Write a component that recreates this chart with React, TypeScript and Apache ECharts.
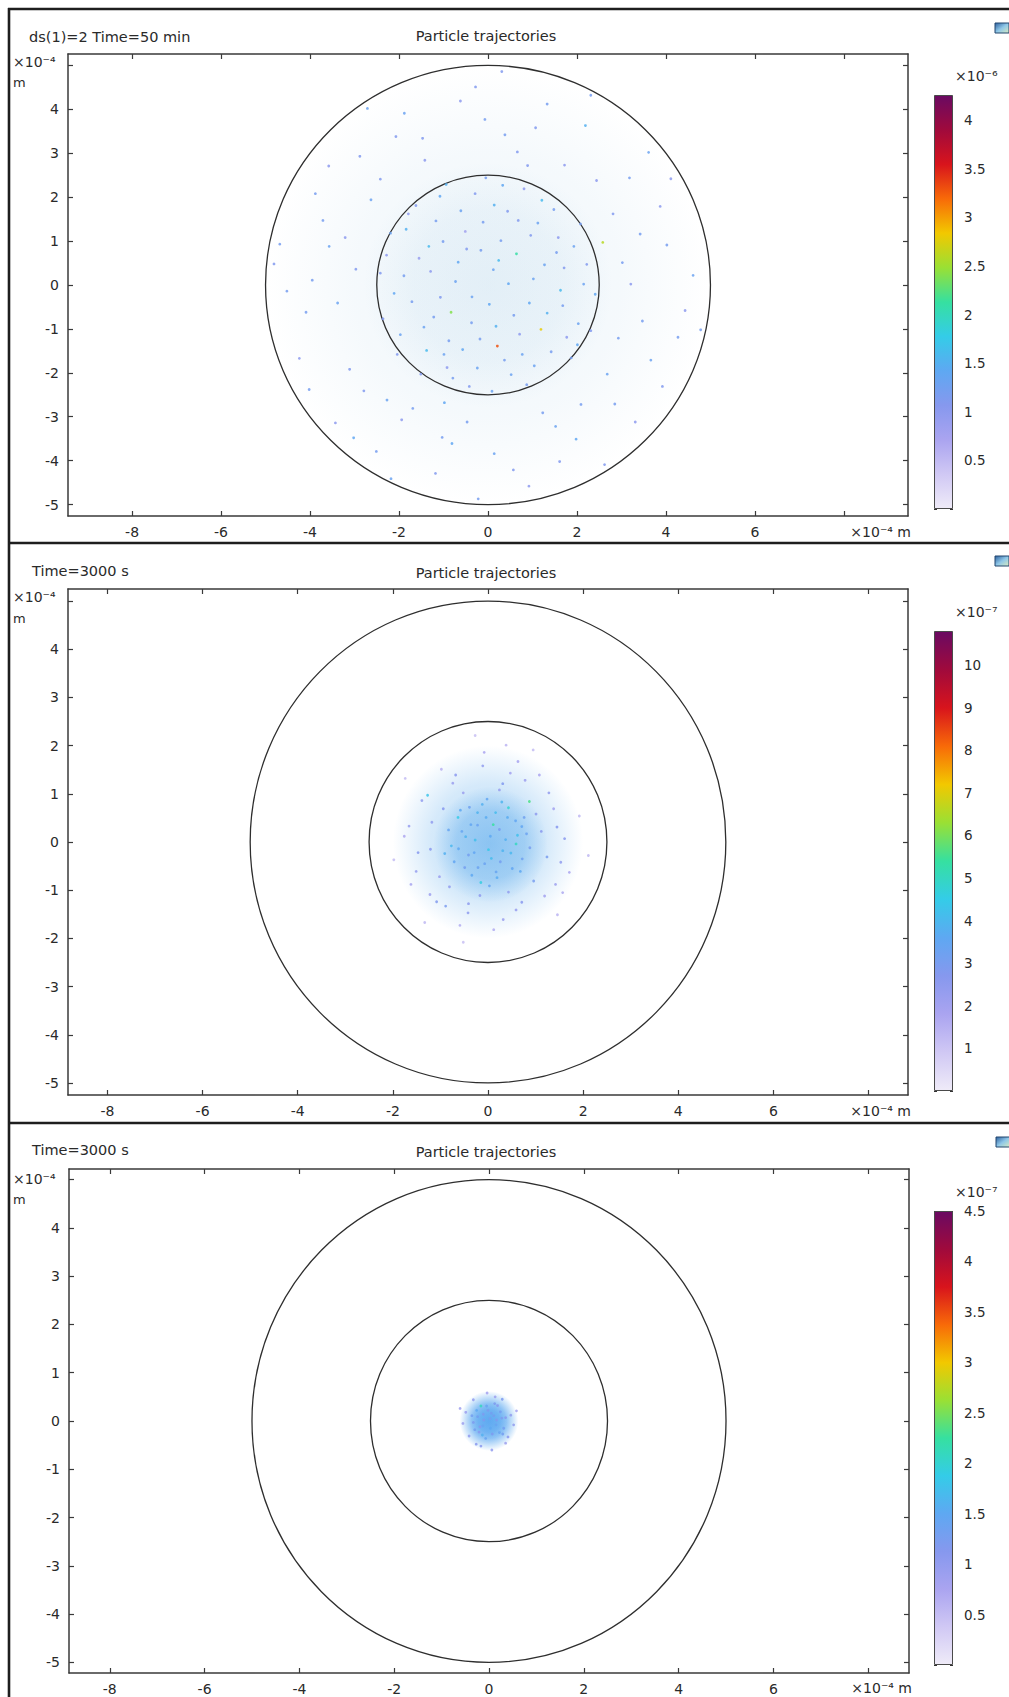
import React, { useEffect, useRef } from 'react';
import * as echarts from 'echarts';

const FONT = 'DejaVu Sans';

// ---------- axis ticks (units of 1e-4 m) ----------
const xTickValues = [-8, -6, -4, -2, 0, 2, 4, 6, 8];
const xLabelValues = [-8, -6, -4, -2, 0, 2, 4, 6];
const yTickValues = [-5, -4, -3, -2, -1, 0, 1, 2, 3, 4, 5];
const yLabelValues = [-5, -4, -3, -2, -1, 0, 1, 2, 3, 4];

// ---------- text ----------
const plotTitles = ['Particle trajectories', 'Particle trajectories', 'Particle trajectories'];
const panelLabels = ['ds(1)=2 Time=50 min', 'Time=3000 s', 'Time=3000 s'];
const axisUnit = '×10⁻⁴';
const xAxisUnit = '×10⁻⁴ m';
const colorUnits = ['×10⁻⁶', '×10⁻⁷', '×10⁻⁷'];

// ---------- colour bars ----------
const colorMin = [0, 0, 0];
const colorMax = [4.26, 10.8, 4.5];
const colorTicks1 = [0, 0.5, 1, 1.5, 2, 2.5, 3, 3.5, 4];
const colorTicks2 = [0, 1, 2, 3, 4, 5, 6, 7, 8, 9, 10];
const colorTicks3 = [0, 0.5, 1, 1.5, 2, 2.5, 3, 3.5, 4, 4.5];
const colorTicks = [colorTicks1, colorTicks2, colorTicks3];
const PALETTE = [
  '#efebf8', '#d0c8f4', '#aaa4f0', '#8698ee', '#5ea8f2', '#34cce8', '#36e0a0',
  '#9ae034', '#f2c800', '#f86a08', '#d8141c', '#a00a3c', '#6a0a62',
];

// ---------- geometry: domain boundaries [cx, cy, r] ----------
const boundaryCircles = [[0, 0, 5], [0, 0, 2.5]];

// ---------- particle clouds: density haze [cx, cy, r, alpha] ----------
const haze1 = [[0, 0, 5.0, 0.13], [0, 0, 2.8, 0.16]];
const haze2 = [[0, 0, 2.0, 0.32], [0.05, -0.05, 1.2, 0.5]];
const haze3 = [[0, 0, 0.62, 0.85], [0, 0, 0.38, 0.6]];
const hazeRGB = ['150,195,225', '80,165,235', '85,165,240'];

// ---------- particles [x (1e-4 m), y (1e-4 m), value] ----------
const particles1 = [
  [0.12, 0.35, 1.3], [-0.48, 0.82, 1.1], [0.93, -0.41, 1.4], [-1.22, -0.73, 1.2], [1.58, 1.08, 1.0], [-1.84, 1.27, 1.5], [0.37, -1.71, 1.2], [-0.29, 2.08, 1.1], [2.03, -0.88, 1.3], [-2.11, -0.19, 1.4],
  [1.21, 1.93, 1.6], [-0.92, -1.88, 1.0], [0.64, 0.71, 2.1], [-0.73, 0.08, 1.3], [1.42, -1.52, 1.2], [-1.55, 0.61, 0.9], [0.18, -0.94, 1.5], [-0.11, 1.43, 1.2], [2.22, 0.47, 1.1], [-1.97, -1.13, 1.3],
  [0.81, 2.19, 1.0], [-1.08, 2.02, 1.4], [1.87, -1.66, 1.2], [-0.42, -2.31, 1.1], [1.02, 0.14, 1.3], [-1.38, -1.49, 1.6], [0.29, 1.01, 1.2], [-0.83, -0.62, 2.4], [1.71, 0.39, 1.1], [-2.28, 0.68, 1.0],
  [0.52, -2.04, 1.3], [-0.18, -1.23, 1.2], [1.33, -0.64, 1.5], [-1.62, 1.81, 1.1], [2.08, 1.39, 1.2], [-0.61, 1.69, 1.3], [0.03, -0.44, 1.4], [-1.01, 0.99, 1.2], [0.71, -1.12, 1.0], [1.12, 1.41, 1.3],
  [-2.36, -0.77, 1.1], [2.41, -0.21, 1.4], [-0.05, 2.44, 1.2], [0.09, -2.42, 1.3], [1.63, -0.12, 1.6], [-1.71, -0.38, 1.2], [0.44, 1.68, 1.1], [-0.57, -1.47, 1.4], [1.93, 0.88, 1.3], [-1.29, 0.31, 1.0],
  [0.87, -2.27, 1.2], [-0.94, 2.29, 1.5], [2.31, -1.04, 1.1], [-2.19, 1.18, 1.3], [1.48, 1.72, 1.2], [-1.51, -2.03, 1.1], [0.24, 0.56, 1.6], [-0.36, -0.27, 1.3], [0.58, -0.69, 1.2], [-0.67, 0.52, 1.4],
  [1.19, -1.01, 2.8], [-1.17, 1.46, 1.2], [0.96, 1.13, 1.1], [-0.24, -1.89, 1.3], [1.77, -1.19, 1.0], [-1.89, 0.21, 1.2], [0.33, 2.27, 1.4], [-2.04, -1.58, 1.1], [2.15, 0.02, 1.3], [-0.79, -2.12, 1.2],
  [0.14, 1.82, 1.5], [-1.44, -0.96, 1.3], [1.54, 0.74, 1.2], [-0.51, 1.22, 0.8], [0.77, -1.58, 1.3], [-1.07, -0.28, 1.1], [0.46, 0.03, 1.4], [-0.16, 0.79, 1.2], [1.27, 0.46, 1.3], [-1.33, 0.88, 1.6],
  [0.68, 1.47, 1.1], [-0.88, -1.27, 1.2], [2.01, -1.36, 1.4], [-2.42, 0.27, 1.1], [1.04, -1.84, 1.3], [-0.37, -0.86, 1.2], [0.21, -1.39, 3.3], [-1.79, 1.62, 1.0], [1.68, -0.47, 1.2], [-0.99, -1.58, 1.3],
  [3.02, 0.51, 1.2], [-3.21, 1.08, 1.0], [2.68, -2.03, 1.3], [-2.79, -2.41, 1.1], [0.38, 3.42, 1.2], [-0.81, -3.61, 1.4], [3.87, 1.79, 1.0], [-4.09, -0.62, 1.2], [1.61, -4.02, 1.1], [-1.88, 3.91, 1.3],
  [4.27, -1.19, 1.2], [-3.58, 2.71, 1.0], [2.19, 3.63, 1.5], [-2.51, -3.79, 1.2], [0.92, -4.58, 1.0], [-0.28, 4.51, 1.1], [4.61, 0.22, 1.3], [-4.68, 0.93, 1.2], [3.31, -3.12, 1.0], [-3.02, -3.48, 1.4],
  [2.81, 1.62, 1.1], [-2.63, 1.94, 1.3], [1.23, -2.91, 1.2], [-1.42, 2.84, 1.0], [3.47, -0.82, 1.2], [-3.38, -0.41, 1.3], [0.66, 3.03, 1.1], [-0.47, -3.12, 1.2], [2.44, 2.38, 1.0], [-2.27, -2.62, 1.3],
  [3.92, -2.31, 1.1], [-3.88, 2.08, 1.2], [1.98, -3.51, 1.4], [-2.07, 3.38, 1.1], [4.02, 0.91, 1.2], [-4.24, -1.67, 1.0], [1.33, 4.12, 1.2], [-1.18, -4.29, 1.1], [3.61, 3.02, 1.3], [-3.43, -3.14, 1.0],
  [2.93, -1.21, 1.2], [-2.97, 0.36, 1.1], [0.14, -3.84, 1.3], [-0.07, 3.77, 1.2], [4.43, -0.58, 1.0], [-4.52, -0.14, 1.2], [2.62, -4.09, 1.1], [-2.71, 4.02, 1.3], [3.18, 2.44, 1.2], [-3.11, -1.92, 1.1],
  [1.72, 2.73, 1.0], [-1.69, -2.81, 1.2], [3.66, -1.71, 1.3], [-3.71, 1.47, 1.2], [0.57, -4.21, 1.1], [-0.62, 4.19, 1.0], [4.78, -1.02, 1.2], [-4.81, 0.48, 1.1], [2.31, 4.32, 1.2], [-2.18, -4.41, 1.3],
  [1.07, 3.58, 1.1], [-1.03, -3.47, 1.2], [3.21, 0.02, 1.0], [-3.57, 0.88, 1.3], [2.09, -2.72, 1.2], [-2.42, 2.41, 1.1], [4.11, 2.42, 1.0], [-4.02, -2.38, 1.2], [0.31, 4.86, 1.1], [-0.22, -4.87, 1.2],
  [2.58, 0.97, 2.6], [-1.94, -3.07, 1.0], [3.42, 1.16, 1.2], [-2.88, 2.93, 1.1], [1.52, -3.22, 1.3], [-3.95, 0.11, 1.2], [0.89, 2.72, 1.1], [-0.98, -2.68, 1.4], [2.85, -2.71, 1.2], [-1.47, 3.34, 1.1],
];

const particles2 = [
  [0.05, 0.12, 3.6], [-0.22, 0.35, 3.3], [0.31, -0.18, 3.9], [-0.41, -0.27, 3.1], [0.58, 0.44, 3.5], [-0.63, 0.51, 4.5], [0.17, -0.62, 3.4], [-0.12, 0.78, 3.8], [0.72, -0.35, 3.2], [-0.77, -0.08, 4.0],
  [0.43, 0.71, 4.8], [-0.34, -0.69, 3.6], [0.24, 0.26, 3.0], [-0.27, 0.04, 4.2], [0.51, -0.55, 3.5], [-0.55, 0.22, 3.4], [0.07, -0.34, 4.1], [-0.04, 0.51, 3.7], [0.81, 0.17, 3.3], [-0.71, -0.41, 3.5],
  [0.29, 0.83, 3.9], [-0.39, 0.72, 3.2], [0.68, -0.61, 3.6], [-0.15, -0.84, 4.6], [0.37, 0.05, 3.8], [-0.49, -0.53, 3.1], [0.11, 0.36, 5.4], [-0.29, -0.22, 3.5], [0.62, 0.14, 4.2], [-0.83, 0.25, 3.4],
  [0.19, -0.74, 3.7], [-0.07, -0.45, 3.3], [0.48, -0.23, 4.0], [-0.58, 0.66, 3.6], [0.76, 0.51, 3.2], [-0.22, 0.61, 3.9], [0.01, -0.16, 4.4], [-0.36, 0.36, 3.5], [0.26, -0.41, 3.1], [0.41, 0.51, 3.7],
  [0.88, -0.12, 3.0], [-0.91, -0.24, 3.8], [-0.02, 0.89, 3.5], [0.03, -0.91, 3.4], [0.59, -0.04, 5.0], [-0.62, -0.14, 3.6], [0.16, 0.61, 4.1], [-0.21, -0.53, 3.3], [0.71, 0.32, 3.5], [-0.47, 0.11, 3.9],
  [1.12, 0.22, 2.6], [-1.18, 0.41, 2.4], [0.96, -0.81, 3.0], [-1.02, -0.72, 2.2], [0.31, 1.21, 2.8], [-0.41, -1.28, 2.5], [1.38, 0.69, 2.0], [-1.47, -0.22, 2.7], [0.59, -1.41, 2.3], [-0.68, 1.39, 2.6],
  [1.53, -0.42, 2.4], [-1.27, 0.97, 4.3], [0.78, 1.28, 2.1], [-0.89, -1.33, 2.9], [0.32, -1.61, 2.2], [-0.11, 1.58, 2.4], [1.61, 0.07, 2.6], [-1.66, 0.33, 2.3], [1.19, -1.12, 2.0], [-1.08, -1.24, 2.8],
  [1.01, 0.58, 2.5], [-0.94, 0.69, 2.7], [0.43, -1.04, 2.4], [-0.52, 1.02, 2.2], [1.24, -0.31, 3.0], [-1.21, -0.15, 2.6], [0.24, 1.08, 2.3], [-0.17, -1.11, 2.5], [0.87, 0.84, 5.6], [-0.81, -0.93, 2.4],
  [1.42, -0.88, 2.1], [-1.39, 0.86, 2.4], [0.71, -1.25, 2.6], [-0.74, 1.22, 2.2], [1.45, 0.31, 2.7], [-1.51, -0.61, 2.3], [0.47, 1.43, 2.0], [-0.42, -1.47, 2.5], [1.28, 1.02, 2.4], [-1.22, -1.09, 2.1],
  [1.71, -0.63, 1.8], [-1.76, 0.12, 1.7], [0.63, 1.67, 1.9], [-0.59, -1.73, 1.6], [1.08, 1.39, 1.8], [-0.98, 1.51, 1.5], [1.57, -1.05, 1.7], [-1.62, -0.88, 1.9], [0.12, -1.82, 1.6], [-0.08, 1.86, 1.8],
  [1.92, 0.54, 1.3], [-1.98, -0.37, 1.2], [0.38, 2.01, 1.4], [-0.52, -2.08, 1.1], [2.11, -0.28, 1.3], [-1.74, 1.32, 1.2], [1.46, -1.51, 1.4], [-1.33, -1.67, 1.3], [0.95, 1.91, 1.2], [-0.27, 2.21, 1.1],
];

const particles3 = [
  [0.02, 0.05, 1.3], [-0.12, 0.14, 1.2], [0.15, -0.08, 1.4], [-0.19, -0.12, 1.1], [0.24, 0.19, 1.3], [-0.26, 0.22, 1.5], [0.07, -0.27, 1.2], [-0.05, 0.31, 1.4], [0.31, -0.15, 1.3], [-0.33, -0.03, 1.2],
  [0.18, 0.32, 1.1], [-0.14, -0.29, 1.6], [0.1, 0.11, 1.3], [-0.11, 0.02, 1.2], [0.22, -0.24, 1.4], [-0.24, 0.09, 1.3], [0.03, -0.15, 1.5], [-0.02, 0.22, 1.2], [0.35, 0.07, 1.1], [-0.3, -0.18, 1.3],
  [0.12, 0.36, 1.2], [-0.17, 0.31, 2.1], [0.29, -0.27, 1.3], [-0.07, -0.36, 1.4], [0.16, 0.02, 1.2], [-0.21, -0.23, 1.1], [0.05, 0.16, 1.3], [-0.13, -0.1, 1.4], [0.27, 0.06, 1.2], [-0.36, 0.11, 1.3],
  [0.46, 0.12, 1.0], [-0.49, 0.18, 0.9], [0.4, -0.33, 1.1], [-0.42, -0.31, 1.0], [0.13, 0.5, 0.9], [-0.17, -0.52, 1.1], [0.52, -0.08, 1.0], [-0.55, -0.05, 0.9], [0.28, 0.45, 1.2], [-0.33, 0.44, 1.0],
  [0.35, -0.46, 0.9], [-0.27, -0.48, 1.1], [0.58, 0.21, 0.8], [-0.61, 0.26, 0.9], [0.06, -0.6, 1.0], [-0.04, 0.58, 0.8],
];

const particleSets = [particles1, particles2, particles3];
const hazeSets = [haze1, haze2, haze3];

// ---------- layout (pixels) ----------
const LAYOUT = [
  {
    grid: { left: 68, top: 54, width: 840, height: 462 }, xr: 9.44, yr: 5.26,
    cbar: { left: 934, top: 95, width: 19, height: 414 },
    label: [29, 37], title: [486, 36], yUnit: [13, 62], yM: [13, 82], xUnit: [911, 532], cUnit: [955, 76], icon: [995, 23],
  },
  {
    grid: { left: 68, top: 589, width: 840, height: 506 }, xr: 8.83, yr: 5.25,
    cbar: { left: 934, top: 631, width: 19, height: 460 },
    label: [32, 571], title: [486, 573], yUnit: [13, 597], yM: [13, 618], xUnit: [911, 1111], cUnit: [955, 612], icon: [995, 556],
  },
  {
    grid: { left: 69, top: 1169, width: 840, height: 504 }, xr: 8.86, yr: 5.22,
    cbar: { left: 934, top: 1211, width: 19, height: 454 },
    label: [32, 1150], title: [486, 1152], yUnit: [13, 1179], yM: [13, 1199], xUnit: [912, 1688], cUnit: [955, 1192], icon: [996, 1137],
  },
];

const AXIS_COLOR = '#3a3a3a';
const TEXT_COLOR = '#2a2a2a';

function buildOption() {
  const grids: any[] = [];
  const xAxes: any[] = [];
  const yAxes: any[] = [];
  const series: any[] = [];
  const visualMaps: any[] = [];
  const graphics: any[] = [];

  const gradStops = PALETTE.map((c, k) => ({ offset: k / (PALETTE.length - 1), color: c }));

  LAYOUT.forEach((L, i) => {
    const gMain = grids.length;
    grids.push({ ...L.grid, containLabel: false });
    const gBar = grids.length;
    grids.push({ ...L.cbar, containLabel: false });

    const axLine = { show: true, onZero: false, lineStyle: { color: AXIS_COLOR, width: 1.5 } };
    const tick = (vals: number[]) => ({ show: true, inside: true, length: 5, customValues: vals, lineStyle: { color: AXIS_COLOR, width: 1.2 } });
    const lbl = (vals: number[], margin: number) => ({ show: true, customValues: vals, margin, fontSize: 14, color: TEXT_COLOR, fontFamily: FONT });

    const xb = xAxes.length;
    xAxes.push({ type: 'value', gridIndex: gMain, position: 'bottom', min: -L.xr, max: L.xr, axisLine: axLine, axisTick: tick(xTickValues), axisLabel: lbl(xLabelValues, 9), splitLine: { show: false } });
    xAxes.push({ type: 'value', gridIndex: gMain, position: 'top', min: -L.xr, max: L.xr, axisLine: axLine, axisTick: tick(xTickValues), axisLabel: { show: false }, splitLine: { show: false } });
    const xc = xAxes.length;
    xAxes.push({ type: 'category', gridIndex: gBar, data: ['c'], show: false, boundaryGap: true });

    const yl = yAxes.length;
    yAxes.push({ type: 'value', gridIndex: gMain, position: 'left', min: -L.yr, max: L.yr, axisLine: axLine, axisTick: tick(yTickValues), axisLabel: lbl(yLabelValues, 9), splitLine: { show: false } });
    yAxes.push({ type: 'value', gridIndex: gMain, position: 'right', min: -L.yr, max: L.yr, axisLine: axLine, axisTick: tick(yTickValues), axisLabel: { show: false }, splitLine: { show: false } });
    const yc = yAxes.length;
    const cTicks = colorTicks[i];
    yAxes.push({
      type: 'value', gridIndex: gBar, position: 'right', min: colorMin[i], max: colorMax[i],
      axisLine: { show: false, onZero: false },
      axisTick: { show: true, inside: true, length: 3, customValues: cTicks, lineStyle: { color: '#333', width: 1 } },
      axisLabel: { show: true, customValues: cTicks.filter((v) => v !== 0), margin: 11, fontSize: 13.5, color: TEXT_COLOR, fontFamily: FONT },
      splitLine: { show: false },
    });
    yAxes.push({
      type: 'value', gridIndex: gBar, position: 'left', min: colorMin[i], max: colorMax[i],
      axisLine: { show: false, onZero: false },
      axisTick: { show: true, inside: true, length: 3, customValues: cTicks, lineStyle: { color: '#333', width: 1 } },
      axisLabel: { show: false },
      splitLine: { show: false },
    });

    // haze (density of particle cloud)
    const rgb = hazeRGB[i];
    series.push({
      type: 'custom', xAxisIndex: xb, yAxisIndex: yl, silent: true, clip: true,
      data: hazeSets[i], encode: { x: 0, y: 1 },
      renderItem: (params: any, api: any) => {
        const c = api.coord([api.value(0), api.value(1)]);
        const s = api.size([api.value(2), api.value(2)]);
        const a = api.value(3);
        return {
          type: 'ellipse',
          shape: { cx: c[0], cy: c[1], rx: s[0], ry: s[1] },
          style: {
            fill: new echarts.graphic.RadialGradient(0.5, 0.5, 0.5, [
              { offset: 0, color: `rgba(${rgb},${a})` },
              { offset: 0.6, color: `rgba(${rgb},${a * 0.75})` },
              { offset: 1, color: `rgba(${rgb},0)` },
            ]),
            stroke: 'none',
          },
        };
      },
    });

    // particles
    const scIdx = series.length;
    series.push({
      type: 'scatter', xAxisIndex: xb, yAxisIndex: yl, silent: true,
      data: particleSets[i], symbol: 'circle', symbolSize: 2.8,
      itemStyle: { opacity: 0.85 },
    });
    visualMaps.push({
      type: 'continuous', show: false, seriesIndex: scIdx, dimension: 2,
      min: colorMin[i], max: colorMax[i], inRange: { color: PALETTE },
    });

    // boundaries
    series.push({
      type: 'custom', xAxisIndex: xb, yAxisIndex: yl, silent: true, clip: false,
      data: boundaryCircles, encode: { x: 0, y: 1 },
      renderItem: (params: any, api: any) => {
        const c = api.coord([api.value(0), api.value(1)]);
        const s = api.size([api.value(2), api.value(2)]);
        return {
          type: 'ellipse',
          shape: { cx: c[0], cy: c[1], rx: s[0], ry: s[1] },
          style: { fill: 'none', stroke: '#2e2e2e', lineWidth: 1.3 },
        };
      },
    });

    // colour bar
    series.push({
      type: 'bar', xAxisIndex: xc, yAxisIndex: yc, silent: true,
      data: [colorMax[i]], barWidth: '100%',
      itemStyle: {
        color: new echarts.graphic.LinearGradient(0, 1, 0, 0, gradStops),
        borderColor: '#4a4a4a', borderWidth: 1,
      },
    });

    // texts
    const txt = (x: number, y: number, text: string, align: string, size = 14.5) => ({
      type: 'text', x, y, silent: true,
      style: { text, fill: TEXT_COLOR, font: `${size}px "${FONT}"`, textAlign: align, textVerticalAlign: 'middle' },
    });
    graphics.push(txt(L.label[0], L.label[1], panelLabels[i], 'left'));
    graphics.push(txt(L.title[0], L.title[1], plotTitles[i], 'center'));
    graphics.push(txt(L.yUnit[0], L.yUnit[1], axisUnit, 'left', 14));
    graphics.push(txt(L.yM[0], L.yM[1], 'm', 'left', 13));
    graphics.push(txt(L.xUnit[0], L.xUnit[1], xAxisUnit, 'right', 14));
    graphics.push(txt(L.cUnit[0], L.cUnit[1], colorUnits[i], 'left', 14));
    graphics.push({
      type: 'rect', silent: true,
      shape: { x: L.icon[0], y: L.icon[1], width: 14, height: 10 },
      style: {
        fill: new echarts.graphic.LinearGradient(0, 0, 1, 1, [
          { offset: 0, color: '#2c5f9e' }, { offset: 0.5, color: '#8fc7e8' }, { offset: 1, color: '#d9ecc0' },
        ]),
        stroke: '#23466f', lineWidth: 1,
      },
    });
  });

  // frame lines
  const frame = (x1: number, y1: number, x2: number, y2: number) => ({
    type: 'line', silent: true, shape: { x1, y1, x2, y2 }, style: { stroke: '#1e1e1e', lineWidth: 2.6 },
  });
  graphics.push(frame(8, 9, 1009, 9));
  graphics.push(frame(9, 8, 9, 1697));
  graphics.push(frame(8, 543, 1009, 543));
  graphics.push(frame(8, 1123, 1009, 1123));

  return {
    animation: false,
    backgroundColor: '#ffffff',
    textStyle: { fontFamily: FONT },
    grid: grids,
    xAxis: xAxes,
    yAxis: yAxes,
    visualMap: visualMaps,
    series,
    graphic: graphics,
  };
}

export default function App() {
  const ref = useRef<HTMLDivElement>(null);
  useEffect(() => {
    document.body.style.margin = '0';
    if (!ref.current) return;
    const chart = echarts.init(ref.current, undefined, { renderer: 'svg' });
    chart.setOption(buildOption() as any);
    return () => chart.dispose();
  }, []);
  return <div ref={ref} style={{ width: 1009, height: 1697 }} />;
}
